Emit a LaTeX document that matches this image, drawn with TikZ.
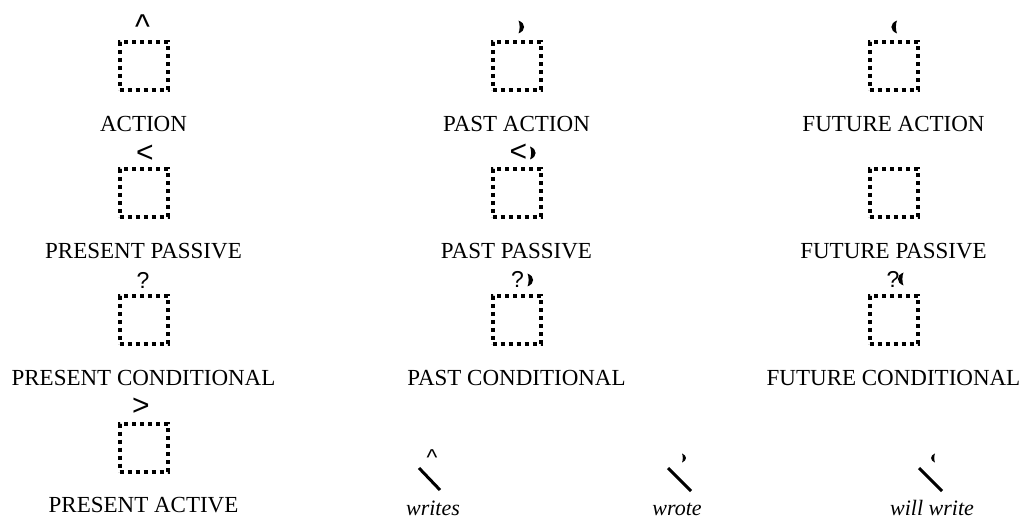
\documentclass[tikz,border=0pt]{standalone}
\usepackage{fontspec}
\usepackage{graphicx}
\setmainfont{Liberation Serif}
\newfontfamily\markfont{Liberation Sans}

\tikzset{
  tensebox/.style={draw,line width=2pt,dash pattern=on 2pt off 2pt,
    minimum width=24pt,minimum height=24pt,inner sep=0pt},
  tenselabel/.style={anchor=base,inner sep=0pt,font=\fontsize{11.5}{13}\selectfont},
  wordlabel/.style={anchor=base,inner sep=0pt,font=\itshape\fontsize{11}{13}\selectfont},
  tensemark/.style={inner sep=0pt,font=\markfont\fontsize{11.5}{13}\selectfont},
  bigmark/.style={inner sep=0pt,font=\markfont\fontsize{15}{17}\selectfont},
  pen/.style={line width=1.5pt},
  pics/hook/.style={code={
    \fill (0,-6.5) .. controls (7.5,-3.5) and (7.5,3.5) .. (0,6.5)
      .. controls (1.5,3) and (1.5,-3) .. cycle;}}
}

\begin{document}
\begin{tikzpicture}[x=0.5pt,y=-0.5pt]
\useasboundingbox (0,0) rectangle (1023,518);

% action
\node[tensebox] (act) at (143.5,66) {};
\node[bigmark] (actm) at (142.5,27) {\scalebox{1.05}[1.15]{\textasciicircum}};
\node[tenselabel] (actl) at (143.5,132) {ACTION};

\node[tensebox] (pact) at (516.5,66) {};
\pic (pactm) at (518.5,27) {hook};
\node[tenselabel] (pactl) at (516.5,132) {PAST ACTION};

\node[tensebox] (fact) at (893.5,66) {};
\pic[xscale=-1] (factm) at (897,27) {hook};
\node[tenselabel] (factl) at (893.5,132) {FUTURE ACTION};

% passive
\node[tensebox] (prpass) at (143.5,193) {};
\node[bigmark] (prpassm) at (145,153.5) {<};
\node[tenselabel] (prpassl) at (143.5,259) {PRESENT PASSIVE};

\node[tensebox] (papass) at (516.5,193) {};
\node[bigmark] (papassm) at (518.5,152.5) {<};
\pic (papassh) at (530,153) {hook};
\node[tenselabel] (papassl) at (516.5,259) {PAST PASSIVE};

\node[tensebox] (fupass) at (893.5,193) {};
\node[tenselabel] (fupassl) at (893.5,259) {FUTURE PASSIVE};

% conditional
\node[tensebox] (prcond) at (143.5,320) {};
\node[tensemark] (prcondm) at (143,280) {?};
\node[tenselabel] (prcondl) at (143.5,386) {PRESENT CONDITIONAL};

\node[tensebox] (pacond) at (516.5,320) {};
\node[tensemark] (pacondm) at (517.5,279) {?};
\pic (pacondh) at (527.5,280) {hook};
\node[tenselabel] (pacondl) at (516.5,386) {PAST CONDITIONAL};

\node[tensebox] (fucond) at (893.5,320) {};
\node[tensemark] (fucondm) at (893,279) {?};
\pic[xscale=-1] (fucondh) at (903.5,279) {hook};
\node[tenselabel] (fucondl) at (893.5,386) {FUTURE CONDITIONAL};

% active
\node[tensebox] (pract) at (143.5,447.5) {};
\node[bigmark] (practm) at (141,407) {>};
\node[tenselabel] (practl) at (143.5,512) {PRESENT ACTIVE};

% verb forms
\draw[pen] (419,468) -- (440,490);
\node[tensemark] (writesm) at (432,458) {\textasciicircum};
\node[wordlabel] (writes) at (433,515) {writes};

\draw[pen] (668,468) -- (691,491);
\pic[scale=0.7] (wrotem) at (682,458) {hook};
\node[wordlabel] (wrote) at (677,515) {wrote};

\draw[pen] (919,468) -- (942,491);
\pic[xscale=-0.7,yscale=0.7] (willm) at (935,458) {hook};
\node[wordlabel] (willwrite) at (932,515) {will write};
\end{tikzpicture}
\end{document}
